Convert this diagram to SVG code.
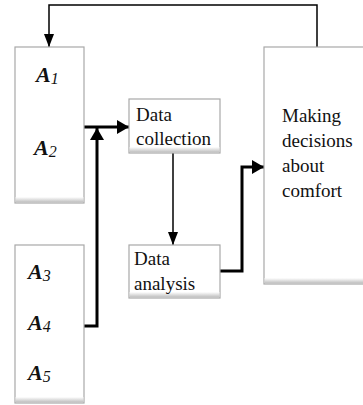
<svg xmlns="http://www.w3.org/2000/svg" width="363" height="405" viewBox="0 0 363 405">
<defs>
<linearGradient id="sh" x1="0" y1="0" x2="0" y2="1">
<stop offset="0" stop-color="#ffffff"/>
<stop offset="1" stop-color="#bdbdbd"/>
</linearGradient>
<marker id="thin" markerWidth="12" markerHeight="14" refX="13" refY="5" orient="auto" markerUnits="userSpaceOnUse">
<path d="M0,0 L13,5 L0,10 Z" fill="#000"/>
</marker>
<marker id="thick" markerWidth="14" markerHeight="14" refX="12" refY="7" orient="auto" markerUnits="userSpaceOnUse">
<path d="M0,0 L12,7 L0,14 Z" fill="#000"/>
</marker>
</defs>
<style>
.box{fill:#fff;stroke:#a8a8a8;stroke-width:1.2}
.shade{fill:url(#sh)}
.t{font-family:"Liberation Serif","Times New Roman",serif;font-size:19px;fill:#111}
.a{font-family:"Liberation Serif","Times New Roman",serif;font-size:22px;font-weight:bold;font-style:italic;fill:#111}
.s{font-size:16px;font-weight:normal}
.thin{fill:none;stroke:#000;stroke-width:1.5}
.thick{fill:none;stroke:#000;stroke-width:3}
</style>
<rect width="363" height="405" fill="#fff"/>
<g id="connectors">
<path class="thin" d="M317,47 V5 H49 V47" marker-end="url(#thin)"/>
<path class="thick" d="M84,127 H129" marker-end="url(#thick)"/>
<path class="thick" d="M84,326 H97 V128" marker-end="url(#thick)"/>
<path class="thin" d="M173,153 V245" marker-end="url(#thin)"/>
<path class="thick" d="M220,271 H242 V167 H264" marker-end="url(#thick)"/>
</g>
<g id="nodeA12">
<rect class="box" x="15" y="47" width="69" height="156"/>
<rect class="shade" x="15.6" y="197" width="67.8" height="5.4"/>
<text class="a" x="36" y="82">A<tspan class="s" dy="2">1</tspan></text>
<text class="a" x="34" y="155">A<tspan class="s" dy="2">2</tspan></text>
</g>
<g id="nodeA345">
<rect class="box" x="15" y="245" width="69" height="158"/>
<rect class="shade" x="15.6" y="397" width="67.8" height="5.4"/>
<text class="a" x="28" y="279">A<tspan class="s" dy="2">3</tspan></text>
<text class="a" x="28" y="330">A<tspan class="s" dy="2">4</tspan></text>
<text class="a" x="28" y="380">A<tspan class="s" dy="2">5</tspan></text>
</g>
<g id="dataCollection">
<rect class="box" x="129" y="99" width="91" height="54"/>
<rect class="shade" x="129.6" y="147" width="89.8" height="5.4"/>
<text class="t" x="136" y="121">Data</text>
<text class="t" x="136" y="145">collection</text>
</g>
<g id="dataAnalysis">
<rect class="box" x="129" y="245" width="91" height="53"/>
<rect class="shade" x="129.6" y="292" width="89.8" height="5.4"/>
<text class="t" x="134" y="265">Data</text>
<text class="t" x="134" y="290">analysis</text>
</g>
<g id="decisions">
<rect class="box" x="264" y="47" width="105" height="237"/>
<rect class="shade" x="264.6" y="278" width="104" height="5.4"/>
<text class="t" x="282" y="122">Making</text>
<text class="t" x="282" y="147">decisions</text>
<text class="t" x="282" y="172">about</text>
<text class="t" x="282" y="197">comfort</text>
</g>
</svg>
